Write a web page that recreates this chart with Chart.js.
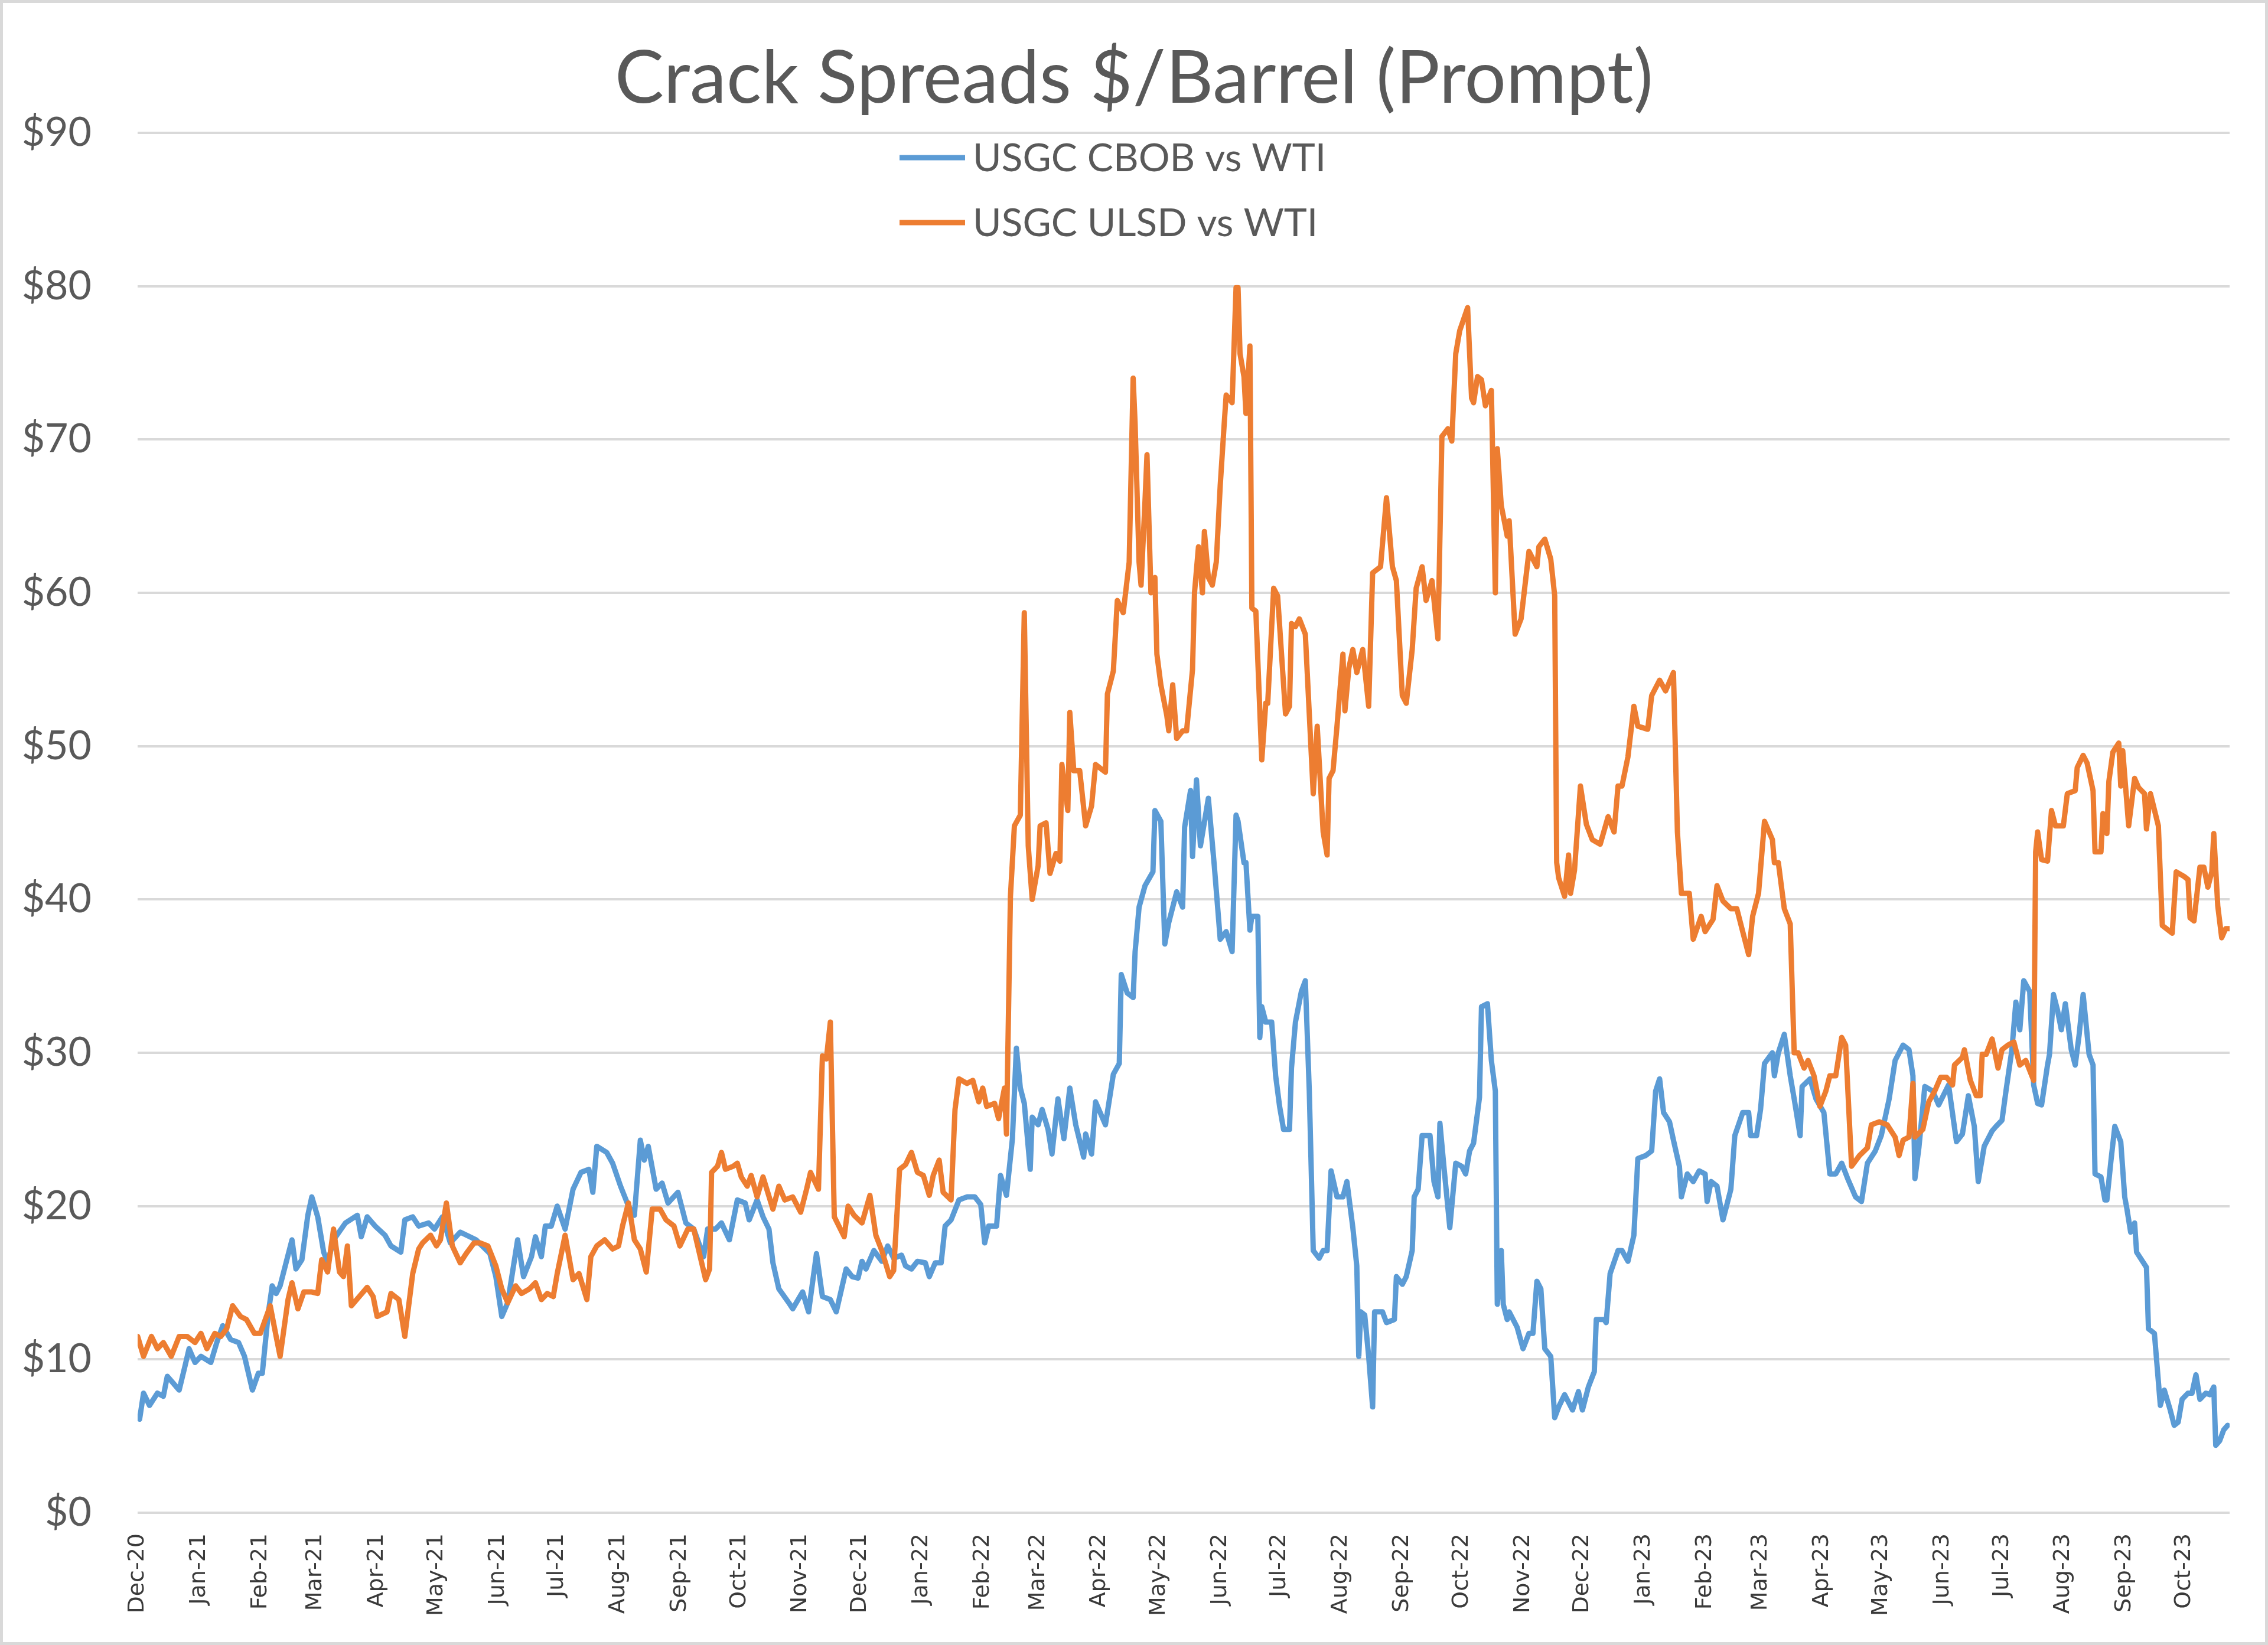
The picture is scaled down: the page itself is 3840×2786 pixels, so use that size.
<!DOCTYPE html>
<html>
<head>
<meta charset="utf-8">
<script src="https://cdn.jsdelivr.net/npm/chart.js@4.4.0/dist/chart.umd.min.js"></script>
<style>
html,body{margin:0;padding:0;background:#fff;}
canvas{display:block;}
</style>
</head>
<body>
<canvas id="c" width="3840" height="2786"></canvas>
<script>
// ---------------- data ----------------
const TITLE = 'Crack Spreads $/Barrel (Prompt)';
const seriesNames = ['USGC CBOB vs WTI', 'USGC ULSD vs WTI'];
// x values are days counted from 1 Dec 2020
const START = { year: 2020, month: 11 };
const monthLabels = ['Dec-20','Jan-21','Feb-21','Mar-21','Apr-21','May-21','Jun-21','Jul-21','Aug-21','Sep-21','Oct-21','Nov-21',
  'Dec-21','Jan-22','Feb-22','Mar-22','Apr-22','May-22','Jun-22','Jul-22','Aug-22','Sep-22','Oct-22','Nov-22',
  'Dec-22','Jan-23','Feb-23','Mar-23','Apr-23','May-23','Jun-23','Jul-23','Aug-23','Sep-23','Oct-23'];
const yTickValues = [0,10,20,30,40,50,60,70,80,90];
const lastDay = 1057;

const cbobDay = [
1,3,6,10,13,15,21,24,26,29,
32,37,40,43,47,51,54,58,61,63,
66,68,70,72,75,78,80,83,86,88,
91,94,96,99,105,111,113,116,120,125,
128,133,135,139,142,147,150,154,158,163,
171,178,181,184,187,192,195,199,201,204,
206,209,212,216,220,224,228,230,232,237,
240,244,248,251,254,256,258,262,265,268,
273,277,281,286,288,292,295,299,303,307,
309,313,316,319,321,324,329,331,336,339,
343,346,350,353,358,361,364,366,368,372,
376,379,382,386,388,391,394,398,400,403,
406,408,411,415,419,423,426,428,430,434,
436,439,442,444,446,448,451,452,455,457,
460,462,465,468,471,474,478,479,482,484,
489,493,496,497,500,503,504,506,509,513,
514,517,519,521,525,528,529,532,533,535,
537,541,544,547,550,553,555,556,559,560,
562,563,566,567,568,570,573,575,577,579,
582,583,585,588,590,592,594,597,599,601,
603,606,609,611,614,616,617,618,620,622,
624,625,629,631,635,636,639,641,644,645,
647,649,650,653,655,657,658,660,663,666,
669,671,673,675,678,679,682,684,686,687,
689,690,692,693,697,700,703,705,707,709,
711,714,716,718,721,725,728,730,733,736,
737,741,742,744,748,750,753,756,758,762,
765,767,769,771,774,776,779,780,783,786,
789,792,793,795,798,801,805,807,811,814,
815,818,820,822,826,827,829,832,835,837,
840,841,845,848,852,855,858,861,864,868,
871,874,878,881,885,888,892,895,897,898,
900,903,907,910,915,919,922,925,928,930,
933,937,939,942,944,947,949,951,953,956,
958,960,962,965,966,968,970,972,974,977,
979,981,983,986,988,989,992,994,995,997,
999,1002,1004,1005,1007,1009,1010,1015,1016,1019,
1022,1024,1027,1029,1031,1033,1036,1038,1040,1042,
1045,1047,1049,1050,1052,1054,1056];
const cbobVal = [
6.1,7.8,7.0,7.8,7.6,8.9,8.0,9.6,10.7,9.8,
10.2,9.8,11.1,12.2,11.3,11.1,10.2,8.0,9.1,9.1,
13.0,14.8,14.3,14.8,16.3,17.8,15.9,16.5,19.4,20.6,
19.3,17.0,16.3,17.8,18.9,19.4,18.0,19.3,18.7,18.1,
17.4,17.0,19.1,19.3,18.7,18.9,18.5,19.3,17.6,18.3,
17.8,16.9,15.4,12.8,13.7,17.8,15.4,16.7,18.0,16.7,
18.7,18.7,20.0,18.5,21.1,22.2,22.4,20.9,23.9,23.5,
22.8,21.3,20.0,19.4,24.3,23.0,23.9,21.1,21.5,20.2,
20.9,18.9,18.5,16.7,18.5,18.5,18.9,17.8,20.4,20.2,
19.1,20.4,19.3,18.5,16.3,14.6,13.7,13.3,14.4,13.1,
16.9,14.1,13.9,13.1,15.9,15.4,15.3,16.4,15.9,17.1,
16.4,17.4,16.6,16.8,16.1,15.9,16.4,16.3,15.4,16.3,
16.3,18.7,19.1,20.4,20.6,20.6,20.1,17.6,18.7,18.7,
22.0,20.7,24.4,30.3,27.7,26.7,22.4,25.8,25.3,26.3,
25.0,23.4,27.0,24.4,27.7,25.3,23.2,24.7,23.4,26.8,
25.3,28.6,29.3,35.1,33.9,33.6,36.6,39.5,40.9,41.8,
45.8,45.1,37.1,38.5,40.5,39.5,44.7,47.1,42.8,47.8,
43.5,46.6,42.2,37.4,37.9,36.6,45.5,45.1,42.4,42.4,
38.0,38.9,38.9,31.0,33.0,32.0,32.0,28.5,26.5,25.0,
25.0,29.0,32.0,34.0,34.7,27.5,17.1,16.6,17.1,17.1,
22.3,20.6,20.6,21.6,18.6,16.1,10.2,13.1,12.9,10.2,
6.9,13.1,13.1,12.4,12.6,15.4,14.9,15.4,17.1,20.6,
21.1,24.6,24.6,24.6,21.6,20.6,25.4,22.6,18.6,22.8,
22.6,22.1,23.6,24.1,27.1,33.0,33.2,29.5,27.5,13.6,
17.1,13.6,12.6,13.1,12.1,10.7,11.7,11.7,15.1,14.6,
10.7,10.2,6.2,6.9,7.7,6.7,7.9,6.7,8.2,9.2,
12.6,12.6,12.4,15.6,17.1,17.1,16.4,18.1,23.1,23.3,
23.6,27.5,28.3,26.1,25.5,24.3,22.6,20.6,22.1,21.6,
22.3,22.1,20.3,21.6,21.3,19.1,21.1,24.6,26.1,26.1,
24.6,24.6,26.3,29.3,30.0,28.5,30.0,31.2,28.5,27.0,
24.6,27.8,28.3,27.0,26.1,22.1,22.1,22.8,21.8,20.6,
20.3,22.8,23.6,24.6,27.0,29.5,30.5,30.2,28.5,21.8,
23.8,27.8,27.5,26.6,27.9,24.2,24.7,27.2,25.2,21.6,
23.9,24.9,25.2,25.6,27.5,30.2,33.3,31.5,34.7,34.0,
27.9,26.7,26.6,29.2,29.9,33.8,32.8,31.5,33.2,30.2,
29.2,31.2,33.8,29.9,29.2,22.1,21.9,20.4,20.4,22.9,
25.2,24.2,20.6,19.9,18.3,18.9,17.0,16.0,12.0,11.7,
7.0,8.0,6.7,5.7,5.9,7.4,7.8,7.8,9.0,7.4,
7.8,7.7,8.2,4.4,4.7,5.4,5.7];

const ulsdDay = [
0,3,7,10,13,17,21,25,29,32,
35,39,42,45,48,52,55,59,62,67,
70,72,76,78,81,84,88,91,93,96,
99,102,104,106,108,112,116,119,121,126,
128,132,135,139,142,144,148,151,153,156,
159,163,166,170,173,177,181,184,187,191,
194,198,201,204,207,210,212,216,220,223,
227,229,232,236,240,243,245,248,251,254,
257,260,264,267,271,274,278,281,285,287,
289,290,293,295,297,301,303,305,308,310,
313,316,321,324,327,331,335,338,340,344,
346,348,350,352,357,359,362,366,370,373,
376,380,382,385,388,391,394,397,400,402,
405,407,411,413,415,419,422,425,427,429,
433,435,438,439,441,443,446,448,450,452,
455,456,459,461,464,466,467,470,471,473,
476,479,482,484,489,490,493,495,498,501,
503,504,506,507,509,510,512,514,515,517,
520,521,523,525,528,530,533,534,536,538,
539,541,543,545,547,549,550,553,555,556,
557,559,560,562,563,565,568,570,571,574,
576,580,582,583,585,587,590,594,596,599,
601,602,604,606,609,610,612,614,616,619,
622,624,628,631,634,636,639,641,644,646,
649,651,654,657,659,662,664,666,668,672,
674,675,677,679,681,684,686,687,689,692,
693,696,699,703,707,708,711,714,716,717,
718,721,723,724,726,729,732,735,739,743,
746,748,750,753,756,758,763,765,769,772,
776,778,780,784,786,790,792,796,798,801,
805,808,814,816,819,822,826,827,829,832,
835,837,839,842,844,847,850,853,855,858,
861,863,866,870,874,876,880,884,888,890,
892,895,897,898,902,905,908,911,914,917,
918,922,923,926,929,931,932,934,937,940,
942,945,948,951,954,958,959,960,962,965,
967,969,973,975,979,980,983,985,988,989,
992,993,995,996,998,1001,1002,1003,1006,1009,
1011,1014,1015,1017,1021,1023,1025,1028,1030,1034,
1036,1037,1039,1042,1044,1046,1048,1049,1051,1053,
1055,1057];
const ulsdVal = [
11.5,10.2,11.5,10.7,11.1,10.2,11.5,11.5,11.1,11.7,
10.7,11.7,11.5,12.0,13.5,12.8,12.6,11.7,11.7,13.5,
11.5,10.2,13.9,15.0,13.3,14.4,14.4,14.3,16.5,15.7,
18.5,15.7,15.4,17.4,13.5,14.1,14.7,14.1,12.8,13.1,
14.3,13.9,11.5,15.6,17.2,17.6,18.1,17.4,17.8,20.2,
17.4,16.3,16.9,17.6,17.6,17.4,16.1,14.6,13.7,14.8,
14.3,14.6,15.0,13.9,14.3,14.1,15.6,18.1,15.2,15.6,
13.9,16.7,17.4,17.8,17.2,17.4,18.7,20.2,17.8,17.2,
15.7,19.8,19.8,19.1,18.7,17.4,18.5,18.5,16.3,15.2,
15.9,22.2,22.6,23.5,22.4,22.6,22.8,21.9,21.3,22.0,
20.6,21.9,19.8,21.3,20.4,20.6,19.6,21.1,22.2,21.1,
29.8,29.6,32.0,19.3,18.0,20.0,19.4,18.9,20.7,18.1,
17.1,15.4,15.8,22.4,22.7,23.5,22.2,22.0,20.7,22.0,
23.0,20.9,20.4,26.3,28.3,28.0,28.2,26.8,27.7,26.5,
26.7,25.7,27.7,24.7,40.2,44.8,45.5,58.7,43.5,40.0,
42.2,44.8,45.0,41.7,43.0,42.5,48.8,45.8,52.2,48.4,
48.4,44.8,46.1,48.8,48.3,53.4,54.9,59.5,58.7,62.0,
74.0,71.0,62.0,60.5,66.0,69.0,60.0,61.0,56.0,54.0,
52.0,51.0,54.0,50.5,51.0,51.0,55.0,60.0,63.0,60.0,
64.0,61.0,60.5,62.0,67.0,71.0,72.9,72.4,79.9,79.9,
75.6,74.1,71.7,76.1,59.0,58.8,49.1,52.8,52.8,60.3,
59.8,52.1,52.6,58.0,57.8,58.3,57.3,46.9,51.3,44.4,
42.9,47.9,48.4,51.3,56.0,52.3,55.1,56.3,54.8,56.3,
52.6,61.3,61.7,66.2,61.7,60.8,53.3,52.8,56.3,60.3,
61.7,59.5,60.8,57.0,70.2,70.7,69.9,75.6,77.1,78.6,
72.7,72.4,74.1,73.9,72.2,73.2,60.0,69.4,65.7,63.7,
64.7,57.3,58.3,62.7,61.7,63.0,63.5,62.2,59.8,42.4,
41.4,40.2,42.9,40.4,41.9,47.4,44.9,43.9,43.6,45.4,
44.4,47.4,47.4,49.3,52.6,51.3,51.1,53.3,54.3,53.6,
54.8,44.4,40.4,40.4,37.4,38.9,37.9,38.7,40.9,39.9,
39.4,39.4,36.4,38.9,40.4,45.1,43.9,42.4,42.4,39.4,
38.4,30.0,30.0,29.0,29.5,28.5,26.5,27.5,28.5,28.5,
31.0,30.5,22.6,23.3,23.8,25.3,25.5,25.3,24.5,23.3,
24.3,24.5,28.0,24.5,25.0,26.8,27.5,28.4,28.4,27.9,
29.2,29.7,30.2,28.2,27.2,27.2,29.9,29.9,30.9,29.0,
30.2,30.5,30.7,29.2,29.5,28.2,43.1,44.4,42.6,42.5,
45.8,44.8,44.8,46.9,47.1,48.6,49.4,48.9,47.1,43.1,
43.1,45.6,44.3,47.7,49.6,50.2,47.4,49.7,44.8,47.9,
47.3,46.9,44.6,46.9,44.8,38.3,38.1,37.8,41.8,41.5,
41.3,38.8,38.6,42.1,42.1,40.8,41.8,44.3,39.6,37.5,
38.1,38.1];

// ---------------- helpers ----------------
const startMs = Date.UTC(START.year, START.month, 1);
const monthDays = monthLabels.map((_, i) =>
  Math.round((Date.UTC(START.year, START.month + i, 1) - startMs) / 86400000));

function fitSize(text, family, targetWidth) {
  const c = document.createElement('canvas').getContext('2d');
  c.font = '100px ' + family;
  return 100 * targetWidth / c.measureText(text).width;
}
const titleSize = fitSize(TITLE, 'Lato', 1758);
const keySize = fitSize(seriesNames[0], 'Lato', 598);
const titleLH = 1.2;
const titleTopPad = 134 - titleSize * titleLH / 2;
const titleBottomPad = 225 - titleSize * titleLH - titleTopPad;

const frame = {
  id: 'frame',
  beforeDraw(chart) {
    const ctx = chart.ctx;
    ctx.save();
    ctx.fillStyle = '#ffffff';
    ctx.fillRect(0, 0, chart.width, chart.height);
    ctx.strokeStyle = '#D9D9D9';
    ctx.lineWidth = 5;
    ctx.strokeRect(2.5, 2.5, chart.width - 5, chart.height - 5);
    ctx.restore();
  }
};

const seriesKey = {
  id: 'seriesKey',
  afterDraw(chart) {
    const ctx = chart.ctx;
    ctx.save();
    chart.data.datasets.forEach((ds, i) => {
      const y = 267 + i * 110;
      ctx.strokeStyle = ds.borderColor;
      ctx.lineWidth = 9;
      ctx.lineCap = 'butt';
      ctx.beginPath();
      ctx.moveTo(1523, y);
      ctx.lineTo(1634, y);
      ctx.stroke();
      ctx.fillStyle = '#595959';
      ctx.font = keySize.toFixed(1) + 'px Lato';
      ctx.textBaseline = 'middle';
      ctx.textAlign = 'left';
      ctx.fillText(ds.label, 1647, y + 2);
    });
    ctx.restore();
  }
};

new Chart(document.getElementById('c'), {
  type: 'line',
  data: {
    datasets: [
      {
        label: seriesNames[0],
        data: cbobDay.map((d, i) => ({ x: d, y: cbobVal[i] })),
        borderColor: '#5B9BD5',
        backgroundColor: '#5B9BD5',
        borderWidth: 9,
        pointRadius: 0,
        tension: 0,
        borderJoinStyle: 'round',
        borderCapStyle: 'round',
        order: 1
      },
      {
        label: seriesNames[1],
        data: ulsdDay.map((d, i) => ({ x: d, y: ulsdVal[i] })),
        borderColor: '#ED7D31',
        backgroundColor: '#ED7D31',
        borderWidth: 9,
        pointRadius: 0,
        tension: 0,
        borderJoinStyle: 'round',
        borderCapStyle: 'round',
        order: 0
      }
    ]
  },
  options: {
    responsive: false,
    animation: false,
    devicePixelRatio: 1,
    layout: { padding: { left: 0, right: 0, top: 0, bottom: 0 } },
    plugins: {
      legend: { display: false },
      tooltip: { enabled: false },
      title: {
        display: true,
        text: TITLE,
        color: '#595959',
        font: { family: 'Lato', size: titleSize, weight: 'normal', lineHeight: titleLH },
        padding: { top: titleTopPad, bottom: titleBottomPad }
      }
    },
    scales: {
      x: {
        type: 'linear',
        min: 0,
        max: lastDay,
        grid: { display: false, drawTicks: false },
        border: { display: false },
        afterBuildTicks(scale) {
          scale.ticks = monthDays.map(v => ({ value: v }));
        },
        afterFit(scale) {
          scale.height = 2786 - 2562;
          scale.paddingLeft = 0;
          scale.paddingRight = 65;
        },
        ticks: {
          autoSkip: false,
          minRotation: 90,
          maxRotation: 90,
          padding: 35,
          color: '#3a3a3a',
          font: { family: 'DejaVu Sans', size: 38 },
          callback(value, index) { return monthLabels[index]; }
        }
      },
      y: {
        min: 0,
        max: 90,
        afterBuildTicks(scale) {
          scale.ticks = yTickValues.map(v => ({ value: v }));
        },
        afterFit(scale) {
          scale.width = 233;
          scale.paddingTop = 0;
          scale.paddingBottom = 0;
        },
        grid: { color: '#D9D9D9', lineWidth: 4, drawTicks: false },
        border: { display: false },
        ticks: {
          padding: 78,
          color: '#595959',
          font: { family: 'Lato', size: 68 },
          callback(value) { return '$' + value; }
        }
      }
    }
  },
  plugins: [frame, seriesKey]
});
</script>
</body>
</html>
